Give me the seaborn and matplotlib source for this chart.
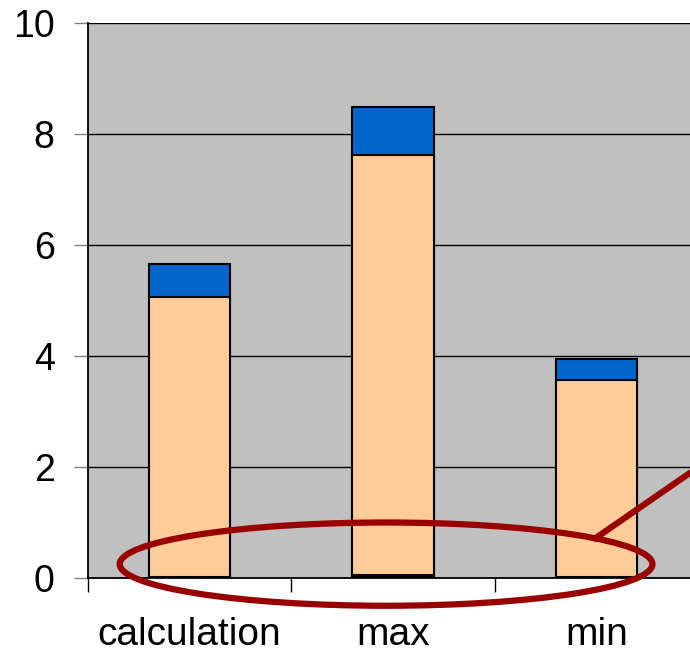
import matplotlib
matplotlib.use("Agg")
import matplotlib.pyplot as plt
import seaborn as sns
import pandas as pd
import numpy as np
from matplotlib.patches import Ellipse

categories = ["calculation", "max", "min"]
base_values = [0.02, 0.05, 0.02]
mid_values = [5.05, 7.58, 3.55]
top_values = [0.58, 0.85, 0.38]
y_ticks = [0, 2, 4, 6, 8, 10]

sns.set_theme(style="white")
plt.rcParams['font.family'] = ['Liberation Sans', 'DejaVu Sans']
plt.rcParams['text.color'] = 'black'
plt.rcParams['xtick.color'] = 'black'
plt.rcParams['ytick.color'] = 'black'

df = pd.DataFrame({"cat": categories, "base": base_values,
                   "mid": mid_values, "top": top_values})
df["cum_mid"] = df["base"] + df["mid"]
df["cum_top"] = df["cum_mid"] + df["top"]

fig = plt.figure(figsize=(6.9, 6.56), dpi=100)
ax = fig.add_axes([88/690, 1-578/656, 610/690, (578-23)/656])
ax.set_facecolor("#C0C0C0")
ax.set_axisbelow(True)

for col, color in [("cum_top", "#0066CC"), ("cum_mid", "#FFCC99"), ("base", "#000000")]:
    sns.barplot(data=df, x="cat", y=col, color=color, saturation=1,
                width=0.4, edgecolor="black", linewidth=1.5, ax=ax)

ax.set_xlim(-0.5, 2.5)
ax.set_ylim(0, 10)
ax.set_yticks(y_ticks)
ax.set_yticklabels([str(v) for v in y_ticks], fontsize=27, color="black")
ax.set_xlabel("")
ax.set_ylabel("")
ax.yaxis.grid(True, color="black", linewidth=1)
ax.xaxis.grid(False)
for s in ["top", "right"]:
    ax.spines[s].set_visible(False)
ax.spines["left"].set_color("black")
ax.spines["bottom"].set_color("black")
ax.spines["left"].set_linewidth(1.3)
ax.spines["bottom"].set_linewidth(1.3)

ax.tick_params(axis="y", length=10, width=1, color="#808080", pad=14, left=True,
               labelcolor="black")
ax.set_xticks(range(len(categories)))
ax.set_xticklabels(categories, fontsize=28, color="black")
ax.tick_params(axis="x", which="major", length=0, pad=28, labelcolor="black")
ax.set_xticks([-0.5, 0.5, 1.5, 2.5], minor=True)
ax.tick_params(axis="x", which="minor", length=10, width=1, color="black", bottom=True)

ell = Ellipse((0.966, 0.25), 2.62, 1.5, fill=False, edgecolor="#990000",
              linewidth=4.5, clip_on=False, zorder=10)
ax.add_patch(ell)
ax.plot([1.985, 2.7], [0.69, 2.5], color="#990000", linewidth=4.5,
        clip_on=False, zorder=10, solid_capstyle="butt")

fig.savefig("out.png", dpi=100)
